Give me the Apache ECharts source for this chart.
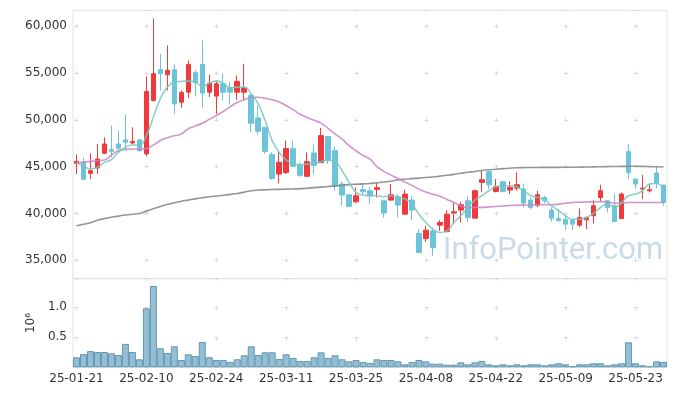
<!DOCTYPE html>
<html><head><meta charset="utf-8">
<script src="https://cdn.jsdelivr.net/npm/echarts@6/dist/echarts.min.js"></script>
<style>html,body{margin:0;padding:0;background:#fff}#c{width:677px;height:396px}</style>
</head><body><div id="c"></div>
<script>
const dates = ['25-01-21','25-01-22','25-01-23','25-01-24','25-01-31',
'25-02-03','25-02-04','25-02-05','25-02-06','25-02-07',
'25-02-10','25-02-11','25-02-12','25-02-13','25-02-14',
'25-02-17','25-02-18','25-02-19','25-02-20','25-02-21',
'25-02-24','25-02-25','25-02-26','25-02-27','25-02-28',
'25-03-04','25-03-05','25-03-06','25-03-07','25-03-10',
'25-03-11','25-03-12','25-03-13','25-03-14','25-03-17',
'25-03-18','25-03-19','25-03-20','25-03-21','25-03-24',
'25-03-25','25-03-26','25-03-27','25-03-28','25-03-31',
'25-04-01','25-04-02','25-04-03','25-04-04','25-04-07',
'25-04-08','25-04-09','25-04-10','25-04-11','25-04-14',
'25-04-15','25-04-16','25-04-17','25-04-18','25-04-21',
'25-04-22','25-04-23','25-04-24','25-04-25','25-04-28',
'25-04-29','25-04-30','25-05-02','25-05-07','25-05-08',
'25-05-09','25-05-12','25-05-13','25-05-14','25-05-15',
'25-05-16','25-05-19','25-05-20','25-05-21','25-05-22',
'25-05-23','25-05-26','25-05-27','25-05-28','25-05-29'];

const openPrices = [45360,45460,44290,44860,46430,46820,47430,47860,47540,47860,
46360,52070,55360,54820,55360,51890,52960,55040,55930,52960,
52540,53860,53430,52960,52960,52610,50210,49210,46290,44210,
44390,46930,45210,43970,46470,45430,48210,46710,43140,42000,
41250,42540,42430,42570,41360,41430,41790,39930,41430,37860,
37320,38140,38750,38070,40040,40360,41360,39500,43320,44460,
42360,43390,42500,42710,42610,41430,40890,41710,40360,39460,
39390,39290,38750,39320,39750,41710,41360,40820,39460,46610,
43680,42610,42430,44320,43040];

const closePrices = [45570,43650,44570,45820,47430,46640,46960,47610,47680,46710,
53040,54930,54930,55290,51710,52930,55930,53960,52860,53930,
53860,52960,52960,54110,53430,49640,48790,46640,43750,45470,
46930,45040,44070,45540,45140,48320,45640,42970,41970,40750,
41890,42320,41890,42750,40040,42000,40900,42070,40360,35820,
38220,36360,39040,39930,40180,40930,39570,42430,43610,43070,
42860,42360,42790,43070,41110,40640,42000,41360,39500,39210,
38860,38860,39570,39570,40820,42430,40640,39140,42070,44390,
43140,42710,42540,43250,41180];

const lowPrices = [44210,43600,43680,44210,46360,46000,46540,46710,47430,46610,
46110,52000,53140,53140,50640,51290,52360,52500,51290,52430,
50640,52140,51640,52140,52140,48680,48430,46360,43610,43220,
44210,45040,43930,43930,44210,45430,45290,42430,40820,40750,
41070,42070,41000,41710,39570,41360,39570,39860,39290,35820,
36960,35470,38140,37960,38860,39040,39110,39500,42250,42610,
42250,42250,42070,42430,40640,40460,40640,41070,39110,39210,
38220,38220,38570,38320,38930,41290,40110,39140,39390,43680,
42610,41540,42250,42710,40820];

const highPrices = [46290,45930,46430,47430,48140,49390,48860,50540,49210,47970,
54640,60820,57070,57960,55930,53140,56360,55290,58500,54820,
54220,54930,54040,54750,56000,52790,51540,49210,46540,46640,
47790,47790,45460,46540,47360,49140,48210,47140,43430,42000,
42790,43250,42790,43250,41360,43140,42070,42540,41890,38320,
38680,38500,39290,40360,41110,41250,41820,42540,44640,44570,
43680,43500,43430,44390,43210,41710,42430,41890,40640,40460,
39750,39390,40540,39680,41430,43070,41430,42070,42250,47430,
43680,44110,43140,45040,43040];

const ma5 = [45360,45110,44750,44930,45460,45750,46540,47070,47320,47320,
48320,50290,52250,53500,54040,54110,54140,54040,53570,53930,
54140,53930,53430,53500,53500,52790,51710,49930,47790,46540,
45710,45290,45210,45290,45360,45540,45710,45570,44570,43320,
42250,41960,41890,41890,41790,41890,41710,41540,41000,39930,
39040,38320,37960,38140,39040,39750,40640,41430,41890,42430,
42860,42970,42970,42860,42430,41890,41710,41430,40820,40290,
39750,39390,39390,39570,40000,40640,41000,40640,41180,41890,
42070,42430,43140,43210,42610];

const ma20 = [45460,45500,45570,45640,45710,46250,46700,46850,46890,46890,
46950,47300,47800,48100,48300,48500,49050,49350,49640,50050,
50460,50900,51400,51850,52150,52400,52420,52300,52150,51900,
51540,51100,50600,50250,49950,49650,49100,48500,47950,47250,
46700,46200,45800,45000,44500,44100,43750,43350,43000,42600,
42300,42050,41850,41500,41200,40800,40640,40640,40650,40700,
40750,40800,40850,40880,40900,40900,40920,40930,40940,41000,
41100,41180,41200,41230,41250,41250,41200,41100,41100,41180,
41180,41180,41180,41180,41200];

const ma120 = [38680,38850,39000,39280,39450,39600,39720,39830,39920,40000,
40250,40500,40750,40950,41150,41300,41430,41560,41680,41790,
41870,41950,42040,42140,42280,42430,42500,42530,42560,42580,
42600,42620,42650,42700,42760,42820,42880,42950,43020,43080,
43120,43160,43200,43280,43360,43450,43600,43660,43720,43780,
43840,43900,43990,44080,44180,44290,44400,44490,44590,44670,
44730,44790,44840,44880,44900,44910,44920,44930,44930,44930,
44940,44940,44950,44960,44980,45000,45010,45020,45030,45040,
45040,45030,45010,44990,44970];

const volumes = [167000,220000,270000,255000,255000,233000,205000,390000,255000,133000,
983000,1356000,317000,239000,350000,122000,217000,189000,422000,167000,
122000,122000,89000,133000,200000,350000,205000,250000,250000,139000,
217000,156000,106000,106000,167000,250000,156000,200000,133000,100000,
122000,89000,72000,133000,122000,122000,100000,50000,89000,122000,
100000,61000,61000,44000,44000,83000,50000,83000,106000,50000,
33000,50000,33000,50000,33000,50000,50000,33000,50000,67000,
50000,17000,50000,50000,67000,67000,33000,50000,67000,417000,
67000,33000,17000,100000,89000];

const FONT = '"DejaVu Sans", sans-serif';
const candleData = dates.map((d, i) => [openPrices[i], closePrices[i], lowPrices[i], highPrices[i]]);

const chart = echarts.init(document.getElementById('c'), null, {renderer: 'canvas'});
const lineSeries = (data, color) => ({
  type: 'line', xAxisIndex: 0, yAxisIndex: 0, data: data, smooth: true, showSymbol: false, symbol: 'none',
  lineStyle: {color: color, width: 1.6}, z: 3, silent: true
});
chart.setOption({
  animation: false,
  backgroundColor: '#ffffff',
  textStyle: {fontFamily: FONT},
  grid: [
    {left: 73, right: 10, top: 10.3, height: 268.4, show: true, borderColor: '#e2e2e2', borderWidth: 1},
    {left: 73, right: 10, top: 278.7, height: 88.6, show: true, borderColor: '#e2e2e2', borderWidth: 1}
  ],
  xAxis: [
    {type: 'category', gridIndex: 0, data: dates, axisLine: {show: false}, axisTick: {show: false}, axisLabel: {show: false},
     splitLine: {show: true, interval: 9, alignWithLabel: true, lineStyle: {color: '#d8d8d8', width: 1, type: [4, 42.8], dashOffset: 32.8}}},
    {type: 'category', gridIndex: 1, data: dates, axisLine: {show: false}, axisTick: {show: false},
     axisLabel: {interval: 9, color: '#333', fontSize: 12, margin: 6, fontFamily: FONT},
     splitLine: {show: true, interval: 9, alignWithLabel: true, lineStyle: {color: '#d8d8d8', width: 1, type: [4, 26], dashOffset: 2}}}
  ],
  yAxis: [
    {type: 'value', gridIndex: 0, min: 33030, max: 61710, splitNumber: 5, axisLine: {show: false}, axisTick: {show: false},
     axisLabel: {color: '#333', fontSize: 12, margin: 6, showMinLabel: false, showMaxLabel: false, fontFamily: FONT},
     splitLine: {show: true, lineStyle: {color: '#d8d8d8', width: 1, type: [4, 66], dashOffset: 68.5}}},
    {type: 'value', gridIndex: 1, min: 0, max: 1477000, interval: 500000, axisLine: {show: false}, axisTick: {show: false},
     axisLabel: {color: '#333', fontSize: 12, margin: 6, showMinLabel: false, showMaxLabel: false, fontFamily: FONT,
       formatter: v => (v / 1e6).toFixed(1)},
     splitLine: {show: true, lineStyle: {color: '#d8d8d8', width: 1, type: [4, 66], dashOffset: 68.5}},
     name: '10⁶', nameLocation: 'middle', nameRotate: 90, nameGap: 34,
     nameTextStyle: {color: '#333', fontSize: 12, fontFamily: FONT}}
  ],
  series: [
    {type: 'candlestick', xAxisIndex: 0, yAxisIndex: 0, data: candleData, barWidth: 5, z: 2,
     itemStyle: {color: '#ee3a3d', color0: '#6cc3da', borderColor: '#ee3a3d', borderColor0: '#6cc3da', borderWidth: 1}},
    lineSeries(ma120, 'rgba(130,130,130,0.85)'),
    lineSeries(ma20, 'rgba(200,130,196,0.85)'),
    lineSeries(ma5, 'rgba(120,200,188,0.85)'),
    {type: 'bar', xAxisIndex: 1, yAxisIndex: 1, data: volumes, barCategoryGap: '0%',
     itemStyle: {color: 'rgba(120,172,198,0.78)', borderColor: '#5e98b4', borderWidth: 1}}
  ],
  graphic: [
    {type: 'text', left: 443, top: 236, z: -10, silent: true,
     style: {text: 'InfoPointer.com', font: '31px Roboto', fill: '#c9dce6'}}
  ]
});
</script></body></html>
